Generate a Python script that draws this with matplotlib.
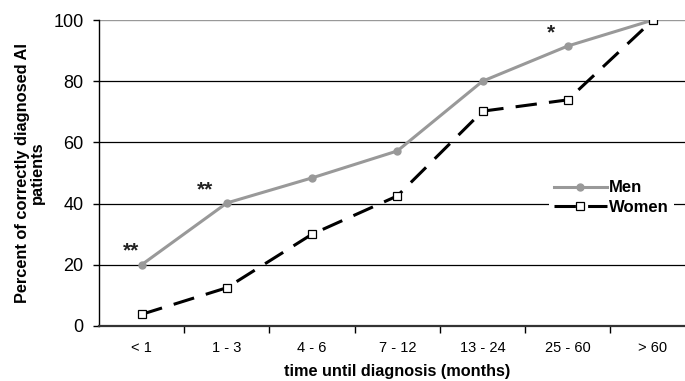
import numpy as np
import matplotlib.pyplot as plt

# data
categories = ['< 1', '1 - 3', '4 - 6', '7 - 12', '13 - 24', '25 - 60', '> 60']
men = [20, 40.2, 48.4, 57.2, 80, 91.5, 100]
women = [3.8, 12.5, 30, 42.5, 70.2, 73.9, 100]
# significance marks: category index -> (text, x shift)
stars = {0: ('**', -0.12), 1: ('**', -0.25), 5: ('*', -0.2)}

plt.rcParams['font.family'] = ['Liberation Sans', 'DejaVu Sans']

fig = plt.figure(figsize=(6.85, 3.81), dpi=100)
ax = fig.add_axes([0.1445, 0.1444, 0.871, 0.8031])

x = np.arange(len(categories))

for yv in [20, 40, 60, 80]:
    ax.axhline(yv, color='black', lw=0.9, zorder=1)
ax.axhline(100, color='#999999', lw=1.0, zorder=1)

ax.plot(x, men, color='#999999', lw=2.2, marker='o', ms=5,
        mfc='#999999', mec='#999999', label='Men', zorder=3)
ax.plot(x, women, color='black', lw=2.2, ls=(0, (7, 4)), marker='s', ms=5.3,
        mfc='white', mec='black', mew=0.9, label='Women', zorder=4)

for i, (s, dx) in stars.items():
    ax.text(x[i] + dx, men[i] + 1.3, s, fontsize=15, fontweight='bold',
            ha='center', va='bottom', color='#222222')

ax.set_xlim(-0.5, 6.5)
ax.set_ylim(0, 100)
ax.set_yticks([0, 20, 40, 60, 80, 100])
ax.tick_params(axis='y', labelsize=13, length=4, width=1, direction='out', pad=7)
ax.set_xticks(x)
ax.set_xticklabels(categories, fontsize=10.5)
ax.tick_params(axis='x', length=0, pad=11)
ax.set_xticks(np.arange(0.5, 6.5, 1), minor=True)
ax.tick_params(axis='x', which='minor', length=5, width=1, direction='out')

for s in ['top', 'right']:
    ax.spines[s].set_visible(False)
ax.spines['left'].set_linewidth(1.0)
ax.spines['bottom'].set_linewidth(1.6)
ax.spines['bottom'].set_color('#333333')

ax.set_ylabel('Percent of correctly diagnosed AI\npatients', fontsize=11.8,
              fontweight='bold', labelpad=6, linespacing=1.0)
ax.set_xlabel('time until diagnosis (months)', fontsize=11.7, fontweight='bold', labelpad=6)

leg = ax.legend(loc='center left', bbox_to_anchor=(0.74, 0.42), frameon=True,
                edgecolor='none', facecolor='white', framealpha=1,
                prop={'weight': 'bold', 'size': 12}, handlelength=3.2,
                handletextpad=0.1, labelspacing=0.25, borderpad=0.3)

fig.savefig('out.png', dpi=100)
